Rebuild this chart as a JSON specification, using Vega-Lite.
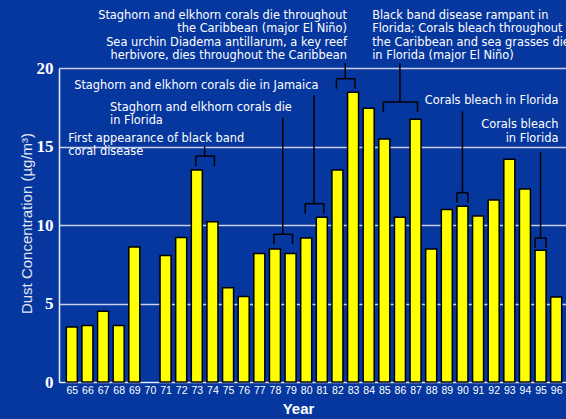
{
  "$schema": "https://vega.github.io/schema/vega-lite/v6.json",
  "width": 510,
  "height": 314,
  "autosize": {"type": "none"},
  "padding": {"left": 59, "top": 68, "right": 0, "bottom": 37},
  "background": "#06379f",
  "config": {"view": {"stroke": null}},
  "datasets": {
    "dust": [
      {"year": 65, "dust": 3.5}, {"year": 66, "dust": 3.6}, {"year": 67, "dust": 4.5},
      {"year": 68, "dust": 3.6}, {"year": 69, "dust": 8.6}, {"year": 71, "dust": 8.05},
      {"year": 72, "dust": 9.2}, {"year": 73, "dust": 13.5}, {"year": 74, "dust": 10.2},
      {"year": 75, "dust": 6.0}, {"year": 76, "dust": 5.45}, {"year": 77, "dust": 8.18},
      {"year": 78, "dust": 8.47}, {"year": 79, "dust": 8.18}, {"year": 80, "dust": 9.17},
      {"year": 81, "dust": 10.5}, {"year": 82, "dust": 13.5}, {"year": 83, "dust": 18.45},
      {"year": 84, "dust": 17.43}, {"year": 85, "dust": 15.48}, {"year": 86, "dust": 10.5},
      {"year": 87, "dust": 16.73}, {"year": 88, "dust": 8.47}, {"year": 89, "dust": 10.98},
      {"year": 90, "dust": 11.2}, {"year": 91, "dust": 10.57}, {"year": 92, "dust": 11.6},
      {"year": 93, "dust": 14.18}, {"year": 94, "dust": 12.3}, {"year": 95, "dust": 8.39},
      {"year": 96, "dust": 5.41}
    ],
    "brackets": [
      {"from": 73, "to": 74, "at": 73.5, "level": 14.39, "top": 15.01},
      {"from": 78, "to": 79, "at": 78.5, "level": 9.41, "top": 16.83},
      {"from": 80, "to": 81, "at": 80.5, "level": 11.36, "top": 18.26},
      {"from": 82, "to": 83, "at": 82.5, "level": 19.32, "top": 20.3},
      {"from": 85, "to": 87, "at": 86, "level": 17.83, "top": 20.3},
      {"from": 90, "to": 90, "at": 90, "level": 12.06, "top": 17.24},
      {"from": 95, "to": 95, "at": 95, "level": 9.17, "top": 14.65}
    ],
    "notesRight": [
      {"text": "Staghorn and elkhorn corals die throughout", "x": 82.61, "y": 23.31},
      {"text": "the Caribbean (major El Niño)", "x": 82.61, "y": 22.46},
      {"text": "Sea urchin Diadema antillarum, a key reef", "x": 82.61, "y": 21.59},
      {"text": "herbivore, dies throughout the Caribbean", "x": 82.61, "y": 20.76},
      {"text": "Corals bleach in Florida", "x": 96.14, "y": 17.88},
      {"text": "Corals bleach", "x": 96.14, "y": 16.35},
      {"text": "in Florida", "x": 96.14, "y": 15.46}
    ],
    "notesLeft": [
      {"text": "Black band disease rampant in", "x": 84.22, "y": 23.31},
      {"text": "Florida; Corals bleach throughout", "x": 84.22, "y": 22.46},
      {"text": "the Caribbean and sea grasses die", "x": 84.22, "y": 21.59},
      {"text": "in Florida (major El Niño)", "x": 84.22, "y": 20.76},
      {"text": "Staghorn and elkhorn corals die in Jamaica", "x": 65.15, "y": 18.83},
      {"text": "Staghorn and elkhorn corals die", "x": 67.45, "y": 17.48},
      {"text": "in Florida", "x": 67.45, "y": 16.62},
      {"text": "First appearance of black band", "x": 64.77, "y": 15.46},
      {"text": "coral disease", "x": 64.77, "y": 14.63}
    ]
  },
  "layer": [
    {
      "data": {"name": "dust"},
      "mark": {"type": "bar", "width": 11, "fill": "#ffff00", "stroke": "#000000", "strokeWidth": 1.5},
      "encoding": {
        "x": {
          "field": "year", "type": "quantitative",
          "scale": {"domain": [64.5, 96.5], "nice": false, "zero": false},
          "axis": {
            "values": [65,66,67,68,69,70,71,72,73,74,75,76,77,78,79,80,81,82,83,84,85,86,87,88,89,90,91,92,93,94,95,96],
            "tickCount": 40,
            "format": "d", "grid": false, "tickSize": 0, "labelOverlap": false, "labelFlush": false,
            "domainColor": "#e8ecff", "domainWidth": 1,
            "labelColor": "#ffffff", "labelFont": "Liberation Sans", "labelFontSize": 10.5, "labelPadding": 3,
            "title": "Year", "titleColor": "#ffffff", "titleFont": "Liberation Sans", "titleFontSize": 15,
            "titleFontWeight": "bold", "titleX": 239, "titleY": 31, "titleBaseline": "alphabetic", "titleAlign": "center"
          }
        },
        "y": {
          "field": "dust", "type": "quantitative",
          "scale": {"domain": [0, 20], "nice": false},
          "axis": {
            "values": [0, 5, 10, 15, 20], "grid": true, "gridColor": "#c8d0ee", "gridWidth": 1.5, "gridOpacity": 1,
            "tickSize": 0, "domainColor": "#e8ecff", "domainWidth": 1.5,
            "labelColor": "#ffffff", "labelFont": "Liberation Serif", "labelFontSize": 17, "labelFontWeight": "bold", "labelPadding": 6,
            "title": "Dust Concentration (µg/m³)", "titleColor": "#e4e6f0", "titleFont": "Liberation Sans", "titleFontSize": 15,
            "titleFontWeight": "normal", "titleX": -33, "titleY": 155, "titleAlign": "center", "titleBaseline": "middle", "titleAngle": -90
          }
        }
      }
    },
    {
      "data": {"name": "notesRight"},
      "mark": {"type": "text", "align": "right", "baseline": "middle", "font": "DejaVu Sans", "fontSize": 11.4, "color": "#ffffff"},
      "encoding": {
        "x": {"field": "x", "type": "quantitative"},
        "y": {"field": "y", "type": "quantitative"},
        "text": {"field": "text"}
      }
    },
    {
      "data": {"name": "notesLeft"},
      "mark": {"type": "text", "align": "left", "baseline": "middle", "font": "DejaVu Sans", "fontSize": 11.4, "color": "#ffffff"},
      "encoding": {
        "x": {"field": "x", "type": "quantitative"},
        "y": {"field": "y", "type": "quantitative"},
        "text": {"field": "text"}
      }
    },
    {
      "data": {"name": "brackets"},
      "mark": {"type": "rule", "color": "#000000", "strokeWidth": 1.5},
      "encoding": {
        "x": {"field": "at", "type": "quantitative"},
        "y": {"field": "level", "type": "quantitative"},
        "y2": {"field": "top"}
      }
    },
    {
      "data": {"name": "brackets"},
      "transform": [{"filter": "datum.from != datum.to"}],
      "layer": [
        {
          "mark": {"type": "rule", "color": "#000000", "strokeWidth": 1.5, "xOffset": -1, "x2Offset": 2},
          "encoding": {
            "x": {"field": "from", "type": "quantitative"},
            "x2": {"field": "to"},
            "y": {"field": "level", "type": "quantitative"}
          }
        },
        {
          "mark": {"type": "rule", "color": "#000000", "strokeWidth": 1.5, "xOffset": -1, "y2Offset": 10},
          "encoding": {
            "x": {"field": "from", "type": "quantitative"},
            "y": {"field": "level", "type": "quantitative"},
            "y2": {"field": "level"}
          }
        },
        {
          "mark": {"type": "rule", "color": "#000000", "strokeWidth": 1.5, "xOffset": 2, "y2Offset": 10},
          "encoding": {
            "x": {"field": "to", "type": "quantitative"},
            "y": {"field": "level", "type": "quantitative"},
            "y2": {"field": "level"}
          }
        }
      ]
    },
    {
      "data": {"name": "brackets"},
      "transform": [{"filter": "datum.from == datum.to"}],
      "layer": [
        {
          "mark": {"type": "rule", "color": "#000000", "strokeWidth": 1.5, "xOffset": -5.5, "x2Offset": 5.5},
          "encoding": {
            "x": {"field": "from", "type": "quantitative"},
            "x2": {"field": "to"},
            "y": {"field": "level", "type": "quantitative"}
          }
        },
        {
          "mark": {"type": "rule", "color": "#000000", "strokeWidth": 1.5, "xOffset": -5.5, "y2Offset": 10},
          "encoding": {
            "x": {"field": "from", "type": "quantitative"},
            "y": {"field": "level", "type": "quantitative"},
            "y2": {"field": "level"}
          }
        },
        {
          "mark": {"type": "rule", "color": "#000000", "strokeWidth": 1.5, "xOffset": 5.5, "y2Offset": 10},
          "encoding": {
            "x": {"field": "to", "type": "quantitative"},
            "y": {"field": "level", "type": "quantitative"},
            "y2": {"field": "level"}
          }
        }
      ]
    }
  ]
}
